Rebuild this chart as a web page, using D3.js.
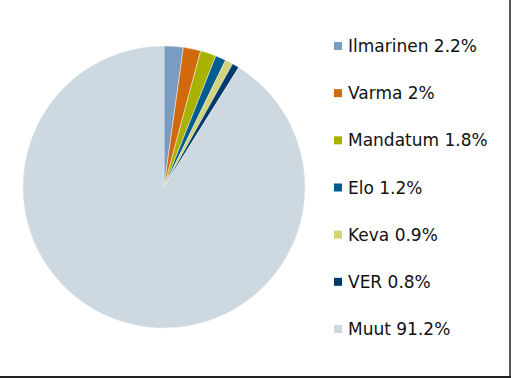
<!DOCTYPE html>
<html>
<head>
<meta charset="utf-8">
<script src="https://d3js.org/d3.v7.min.js"></script>
<style>
  body { margin: 0; background: #fff; }
  svg { display: block; }
  .legend text { font-family: "DejaVu Sans", Verdana, sans-serif; font-size: 17px; fill: #111; }
</style>
</head>
<body>
<svg width="511" height="378"></svg>
<script>
var names = ["Ilmarinen", "Varma", "Mandatum", "Elo", "Keva", "VER", "Muut"];
var shares = [2.2, 2, 1.8, 1.2, 0.9, 0.8, 91.2];
var colors = ["#7a9cc0", "#d2690a", "#a9b200", "#005b8e", "#d3d37a", "#003a6d", "#cdd8e0"];

var svg = d3.select("svg"),
    width = +svg.attr("width"),
    height = +svg.attr("height");

// frame (only right and bottom edges show)
svg.append("line").attr("x1", width - 1).attr("x2", width - 1).attr("y1", 0).attr("y2", height)
    .attr("stroke", "#555").attr("stroke-width", 2);
svg.append("line").attr("x1", 0).attr("x2", width).attr("y1", height - 1).attr("y2", height - 1)
    .attr("stroke", "#222").attr("stroke-width", 2);

var data = names.map(function(n, i) { return { name: n, value: shares[i], color: colors[i] }; });

var pie = d3.pie().sort(null).value(function(d) { return d.value; });
var arc = d3.arc().innerRadius(0).outerRadius(141);

var g = svg.append("g").attr("transform", "translate(164,187)");

g.selectAll("path")
    .data(pie(data))
  .enter().append("path")
    .attr("d", arc)
    .attr("fill", function(d) { return d.data.color; })
    .attr("stroke", "#eef2f5")
    .attr("stroke-width", 0.5);

var y = d3.scalePoint().domain(names).range([46, 329]);

var legend = svg.append("g").attr("class", "legend")
  .selectAll("g")
    .data(data)
  .enter().append("g")
    .attr("transform", function(d) { return "translate(334," + y(d.name) + ")"; });

legend.append("rect")
    .attr("x", 0).attr("y", -4).attr("width", 8).attr("height", 8)
    .attr("fill", function(d) { return d.color; });

legend.append("text")
    .attr("x", 14).attr("y", 0).attr("dy", "0.36em")
    .text(function(d) { return d.name + " " + d.value + "%"; });
</script>
</body>
</html>
